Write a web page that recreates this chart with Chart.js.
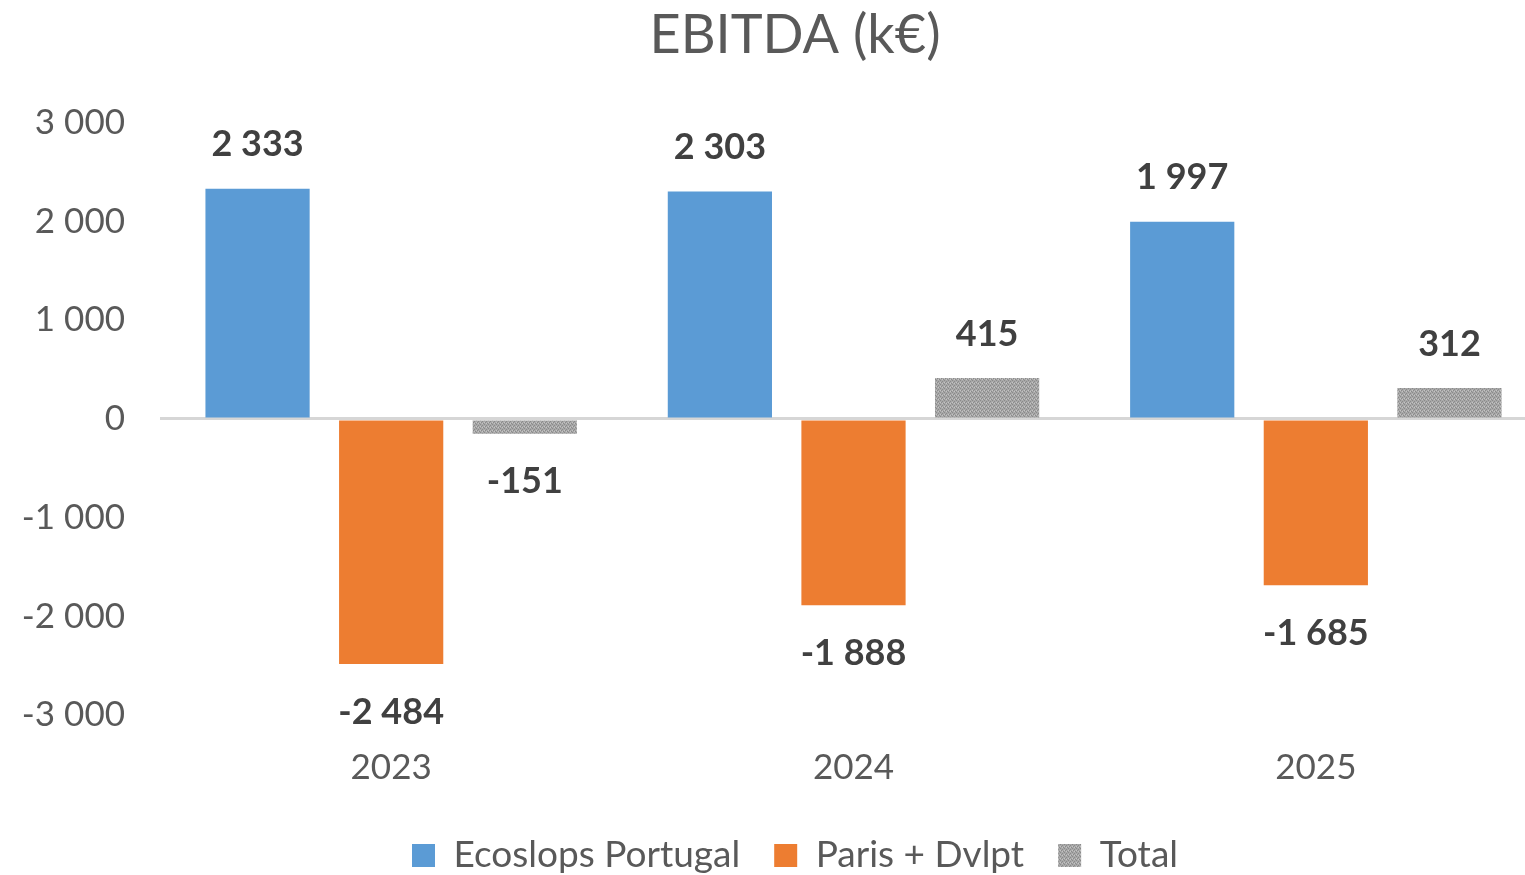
<!DOCTYPE html>
<html>
<head>
<meta charset="utf-8">
<title>EBITDA (k€)</title>
<script src="https://cdn.jsdelivr.net/npm/chart.js@4.4.1/dist/chart.umd.min.js"></script>
<style>
  html, body { margin: 0; padding: 0; background: #fff; overflow: hidden; }
  #wrap { width: 1590px; height: 875px; position: relative; }
</style>
</head>
<body>
<div id="wrap"><canvas id="ebitdaChart"></canvas></div>
<script>
// Données du graphique
const annees = ['2023', '2024', '2025'];
const ecoslopsPortugal = [2333, 2303, 1997];
const parisDvlpt = [-2484, -1888, -1685];
const total = [-151, 415, 312];
const yTicks = [-3000, -2000, -1000, 0, 1000, 2000, 3000];

// format "2 333"
function fmt(v) {
    const s = Math.abs(v).toString().replace(/\B(?=(\d{3})+(?!\d))/g, ' ');
    return (v < 0 ? '-' : '') + s;
}

// motif gris pour la série Total
function motifGris() {
    const c = document.createElement('canvas');
    c.width = 4; c.height = 4;
    const ctx = c.getContext('2d');
    ctx.fillStyle = '#a8a8a8';
    ctx.fillRect(0, 0, 4, 4);
    ctx.fillStyle = '#8a8a8a';
    ctx.fillRect(0, 0, 1, 1);
    ctx.fillRect(2, 1, 1, 1);
    ctx.fillRect(1, 2, 1, 1);
    ctx.fillRect(3, 3, 1, 1);
    ctx.fillStyle = '#c4c4c4';
    ctx.fillRect(2, 3, 1, 1);
    ctx.fillRect(0, 2, 1, 1);
    return ctx.createPattern(c, 'repeat');
}

// étiquettes de valeurs au-dessus / en dessous des barres
const etiquettes = {
    id: 'etiquettes',
    afterDatasetsDraw(chart) {
        const ctx = chart.ctx;
        ctx.save();
        ctx.font = 'bold 36px Lato';
        ctx.fillStyle = '#404040';
        ctx.textAlign = 'center';
        ctx.textBaseline = 'middle';
        chart.data.datasets.forEach((ds, i) => {
            const meta = chart.getDatasetMeta(i);
            meta.data.forEach((bar, j) => {
                const v = ds.data[j];
                const y = v >= 0 ? bar.y - 44 : bar.y + 48;
                ctx.fillText(fmt(v), bar.x, y);
            });
        });
        ctx.restore();
    }
};

// hauteur fixe de la légende (texte centré vers y = 855)
const legendeFixe = {
    id: 'legendeFixe',
    beforeLayout(chart) {
        const lg = chart.legend;
        if (lg && !lg._fixe) {
            const fit = lg.fit;
            lg.fit = function () {
                fit.call(this);
                this.height = 875 - 855 + 18 + this.options.labels.padding;
            };
            lg._fixe = true;
        }
    }
};

const gris = motifGris();

new Chart(document.getElementById('ebitdaChart'), {
    type: 'bar',
    data: {
        labels: annees,
        datasets: [
            { label: 'Ecoslops Portugal', data: ecoslopsPortugal, backgroundColor: '#5b9bd5' },
            { label: 'Paris + Dvlpt', data: parisDvlpt, backgroundColor: '#ed7d31' },
            { label: 'Total', data: total, backgroundColor: gris }
        ]
    },
    options: {
        responsive: true,
        maintainAspectRatio: false,
        animation: false,
        categoryPercentage: 0.867,
        barPercentage: 0.78,
        layout: { padding: 0 },
        plugins: {
            title: {
                display: true,
                text: 'EBITDA (k€)',
                color: '#595959',
                font: { family: 'Lato', size: 54, weight: 'normal' },
                padding: { top: 3, bottom: 55 }
            },
            legend: {
                position: 'bottom',
                labels: {
                    color: '#595959',
                    font: { family: 'Lato', size: 37 },
                    boxWidth: 23,
                    boxHeight: 23,
                    padding: 34
                }
            },
            tooltip: { enabled: false }
        },
        scales: {
            x: {
                grid: { display: false },
                border: { display: false },
                afterFit(scale) { scale.height = 88; },
                ticks: {
                    color: '#595959',
                    font: { family: 'Lato', size: 35 },
                    padding: 24
                }
            },
            y: {
                min: -3000,
                max: 3000,
                afterBuildTicks(scale) {
                    scale.ticks = yTicks.map(v => ({ value: v }));
                },
                afterFit(scale) { scale.width = 160; },
                border: { display: false },
                grid: {
                    drawTicks: false,
                    lineWidth: 3,
                    color: c => c.tick && c.tick.value === 0 ? '#d6d6d6' : 'rgba(0,0,0,0)'
                },
                ticks: {
                    color: '#595959',
                    font: { family: 'Lato', size: 35 },
                    padding: 35,
                    callback: v => fmt(v)
                }
            },
            marge: {
                type: 'linear',
                position: 'right',
                grid: { display: false },
                border: { display: false },
                ticks: { display: false },
                afterFit(scale) { scale.width = 43; }
            }
        }
    },
    plugins: [etiquettes, legendeFixe]
});
</script>
</body>
</html>
